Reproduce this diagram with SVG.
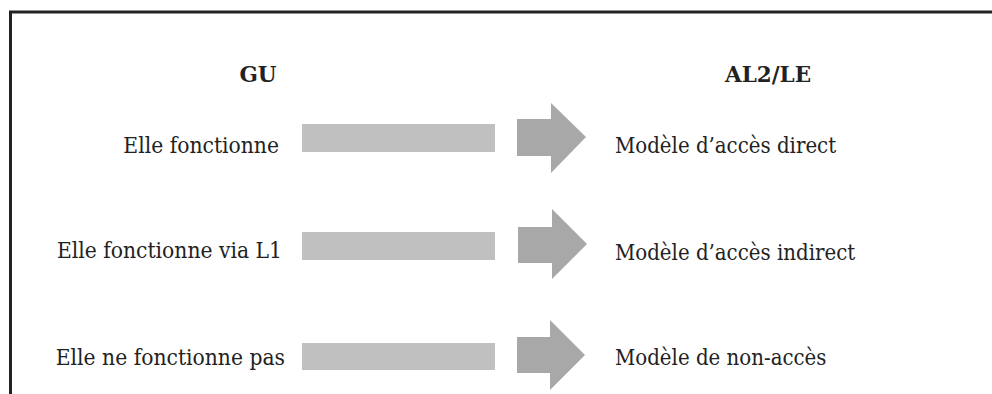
<svg xmlns="http://www.w3.org/2000/svg" width="992" height="394" viewBox="0 0 992 394">
<style>
.t{font-family:'DejaVu Serif Condensed','DejaVu Serif',serif;font-stretch:condensed;font-size:22px;fill:#222}
.l{font-size:22.6px}
.h{font-family:'DejaVu Serif',serif;font-size:21.5px;font-weight:bold;fill:#222}
.bar{fill:#c0c0c0}
.arr{fill:#a8a8a8}
</style>
<rect width="992" height="394" fill="#fff"/>
<path d="M10.5,394 V12 H992" fill="none" stroke="#222" stroke-width="3"/>
<g id="headers">
<text class="h" x="258" y="82" text-anchor="middle">GU</text>
<text class="h" x="725" y="82">AL2/LE</text>
</g>
<g id="source1"><text class="t l" x="279" y="153" text-anchor="end">Elle fonctionne</text></g>
<g id="source2"><text class="t l" x="282" y="258" text-anchor="end">Elle fonctionne via L1</text></g>
<g id="source3"><text class="t l" x="285" y="365" text-anchor="end">Elle ne fonctionne pas</text></g>
<g id="target1"><text class="t" x="615" y="153">Modèle d’accès direct</text></g>
<g id="target2"><text class="t" x="615" y="260">Modèle d’accès indirect</text></g>
<g id="target3"><text class="t" x="615" y="365">Modèle de non-accès</text></g>
<g id="connectors">
<rect class="bar" x="302" y="124" width="193" height="28"/>
<polygon class="arr" points="517,119 551,119 551,103 586,137 551,173 551,156 517,156"/>
<rect class="bar" x="302" y="232" width="193" height="28"/>
<polygon class="arr" points="518,227 552,227 552,209 587,244 552,279 552,263 518,263"/>
<rect class="bar" x="302" y="343" width="193" height="27"/>
<polygon class="arr" points="517,337 550,337 550,320 585,355 550,390 550,373 517,373"/>
</g>
</svg>
